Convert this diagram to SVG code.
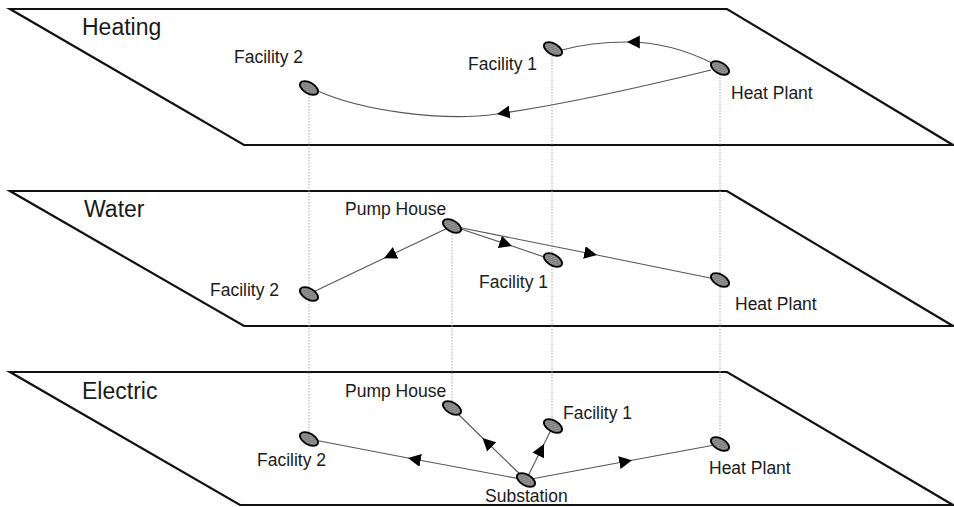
<svg xmlns="http://www.w3.org/2000/svg" width="954" height="507" viewBox="0 0 954 507">
<style>
.plane{fill:none;stroke:#111;stroke-width:2.2;stroke-linejoin:miter}
.title{font-family:"Liberation Sans",Arial,sans-serif;font-size:23px;fill:#1a1a1a}
.lbl{font-family:"Liberation Sans",Arial,sans-serif;font-size:17.5px;fill:#1a1a1a}
.node{fill:url(#hatch);stroke:#000;stroke-width:1.8}
.conn{fill:none;stroke:#555;stroke-width:1.1;marker-mid:url(#arr)}
.drop{fill:none;stroke:#aaa;stroke-width:1;stroke-dasharray:1.5,1.5}
</style>
<defs>
<pattern id="hatch" width="3" height="3" patternUnits="userSpaceOnUse">
<rect width="3" height="3" fill="#999"/>
<path d="M0,3 L3,0" stroke="#666" stroke-width="1"/>
</pattern>
<marker id="arr" markerUnits="userSpaceOnUse" markerWidth="14" markerHeight="14" viewBox="0 -6 12 12" refX="11" refY="0" orient="auto">
<path d="M0,-5.5 L11,0 L0,5.5 z" fill="#000"/>
</marker>
<ellipse id="nd" cx="0" cy="0" rx="10" ry="5.5" transform="rotate(30)" class="node"/>
</defs>

<g id="planes">
<polygon class="plane" points="10,9 727,9 953,145 244,145"/>
<polygon class="plane" points="10,191 727,191 953,326 244,326"/>
<polygon class="plane" points="10,372 727,372 953,505 240,505"/>
</g>

<g id="titles">
<text class="title" x="82" y="35">Heating</text>
<text class="title" x="84" y="217">Water</text>
<text class="title" x="82" y="399">Electric</text>
</g>

<g id="drops">
<line class="drop" x1="309" y1="88" x2="309" y2="439"/>
<line class="drop" x1="552" y1="50" x2="552" y2="426"/>
<line class="drop" x1="720" y1="68" x2="720" y2="444"/>
<line class="drop" x1="452" y1="226" x2="452" y2="408"/>
</g>

<g id="connectors">
<path class="conn" d="M712,63 C690,52 660,42 627,42 C600,42 580,45 562,50"/>
<path class="conn" d="M711,70 C650,85 560,105 497,114 C440,122 360,110 318,91"/>
<path class="conn" d="M452,226 L384,258.3 L309,294"/>
<path class="conn" d="M452,226 L512,246 L553,260"/>
<path class="conn" d="M452,226 L597,255 L720,280"/>
<path class="conn" d="M526,480 L408,458 L309,439"/>
<path class="conn" d="M526,480 L482.5,438 L452,408"/>
<path class="conn" d="M526,480 L544,444 L553,426"/>
<path class="conn" d="M526,480 L632,460.3 L720,444"/>
</g>

<g id="heating-facility2"><use href="#nd" x="309" y="88"/><text class="lbl" x="234" y="63">Facility 2</text></g>
<g id="heating-facility1"><use href="#nd" x="553" y="49"/><text class="lbl" x="468" y="70">Facility 1</text></g>
<g id="heating-heatplant"><use href="#nd" x="720" y="68"/><text class="lbl" x="731" y="99">Heat Plant</text></g>

<g id="water-pumphouse"><use href="#nd" x="452" y="226"/><text class="lbl" x="345" y="215">Pump House</text></g>
<g id="water-facility1"><use href="#nd" x="553" y="260"/><text class="lbl" x="479" y="288">Facility 1</text></g>
<g id="water-facility2"><use href="#nd" x="309" y="294"/><text class="lbl" x="210" y="296">Facility 2</text></g>
<g id="water-heatplant"><use href="#nd" x="720" y="280"/><text class="lbl" x="735" y="310">Heat Plant</text></g>

<g id="electric-pumphouse"><use href="#nd" x="452" y="408"/><text class="lbl" x="345" y="397">Pump House</text></g>
<g id="electric-facility1"><use href="#nd" x="553" y="426"/><text class="lbl" x="563" y="419">Facility 1</text></g>
<g id="electric-facility2"><use href="#nd" x="309" y="439"/><text class="lbl" x="257" y="466">Facility 2</text></g>
<g id="electric-heatplant"><use href="#nd" x="720" y="444"/><text class="lbl" x="709" y="474">Heat Plant</text></g>
<g id="electric-substation"><use href="#nd" x="526" y="480"/><text class="lbl" x="485" y="502">Substation</text></g>
</svg>
